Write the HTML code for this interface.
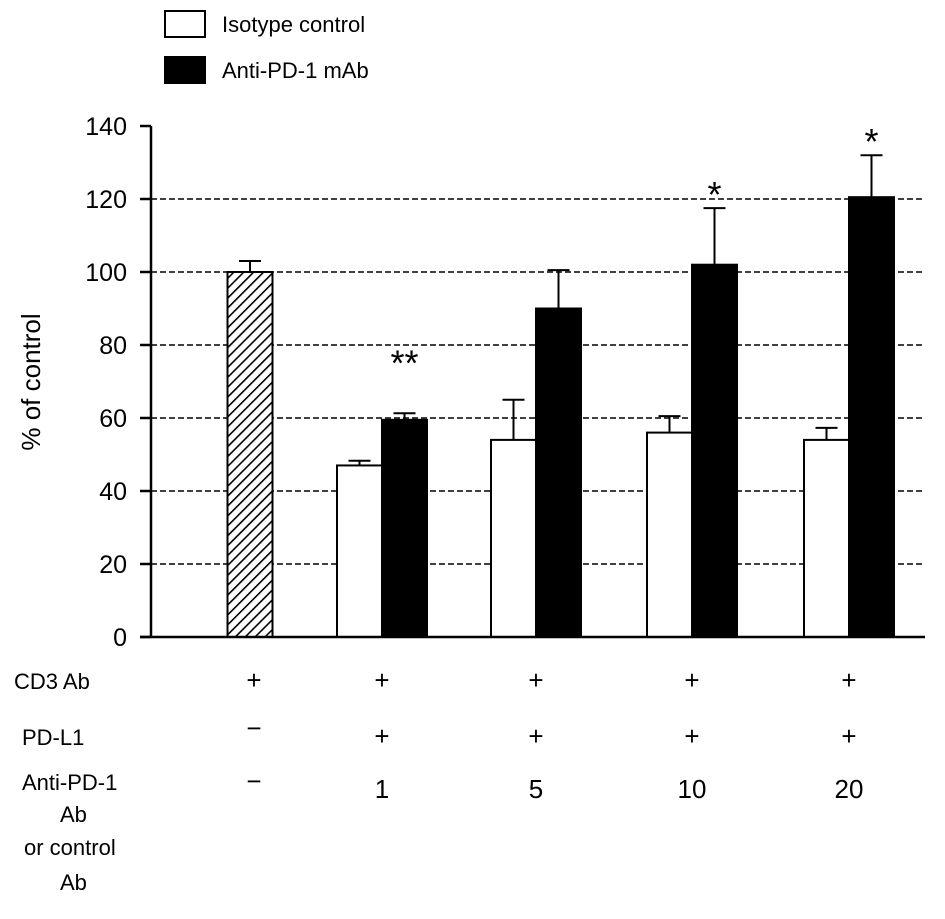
<!DOCTYPE html>
<html><head><meta charset="utf-8"><style>
body{margin:0;background:#fff;}
svg text{font-family:"Liberation Sans",Arial,sans-serif;fill:#000;}
</style></head><body>
<svg width="945" height="914" viewBox="0 0 945 914" xmlns="http://www.w3.org/2000/svg">
<defs>
<pattern id="hatch" patternUnits="userSpaceOnUse" width="7" height="7" patternTransform="rotate(45)">
<rect width="7" height="7" fill="#fff"/><line x1="0" y1="0" x2="0" y2="7" stroke="#000" stroke-width="3.2"/>
</pattern>
</defs>
<g>
<rect x="165" y="11" width="40" height="26" fill="#fff" stroke="#000" stroke-width="2"/>
<text x="222" y="32" font-size="22">Isotype control</text>
<rect x="165" y="57" width="40" height="26" fill="#000" stroke="#000" stroke-width="2"/>
<text x="222" y="78" font-size="22">Anti-PD-1 mAb</text>
</g>
<text transform="translate(40,382) rotate(-90)" text-anchor="middle" font-size="26">% of control</text>
<g id="grid"></g>
<g id="bars"></g>
<line x1="151" y1="126" x2="151" y2="637" stroke="#000" stroke-width="2.5"/>
<line x1="140" y1="637" x2="925" y2="637" stroke="#000" stroke-width="2.5"/>
<g id="yt"></g>
<g font-size="22">
<text x="14" y="689">CD3 Ab</text>
<text x="22" y="745">PD-L1</text>
<text x="22" y="790">Anti-PD-1</text>
<text x="60" y="822">Ab</text>
<text x="24" y="855">or control</text>
<text x="60" y="890">Ab</text>
<g id="tbl" font-size="26"></g>
</g>
</svg>
<script>
const yTicks=[0,20,40,60,80,100,120,140];
const controlValue=100, controlErr=3;
const isotypeValues=[47,54,56,54];
const isotypeErr=[1.3,11,4.5,3.3];
const antiValues=[59.5,90,102,120.5];
const antiErr=[1.8,10.5,15.5,11.5];
const stars=["**","","*","*"];
const cd3Row=["+","+","+","+","+"];
const pdl1Row=["\u2212","+","+","+","+"];
const doseRow=["\u2212","1","5","10","20"];
const NS="http://www.w3.org/2000/svg";
const y=v=>637-v*3.65;
const groupX=[250,382,536,692,849];
function mk(t,a,p){const e=document.createElementNS(NS,t);for(const k in a)e.setAttribute(k,a[k]);p.appendChild(e);return e;}
const grid=document.getElementById('grid'),yt=document.getElementById('yt'),bars=document.getElementById('bars'),tbl=document.getElementById('tbl');
yTicks.forEach(v=>{
 if(v>0&&v<140){const l=mk('line',{x1:151,x2:922,y1:y(v),y2:y(v),stroke:'#000','stroke-width':1.6,'stroke-dasharray':'6,3'},grid);
 
 }
 const t=mk('line',{x1:140,x2:151,y1:y(v),y2:y(v),stroke:'#000','stroke-width':2.5},yt);
 
 
 const tx=mk('text',{x:127,y:y(v)+9,'text-anchor':'end','font-size':25},yt);tx.textContent=v;
 
 
});
function err(cx,v,e,name){
 const g=mk('g',{stroke:'#000','stroke-width':2},bars);
 
 
 mk('line',{x1:cx,x2:cx,y1:y(v),y2:y(v+e)},g);
 mk('line',{x1:cx-11,x2:cx+11,y1:y(v+e),y2:y(v+e)},g);
}
const w=45;
let b=mk('rect',{x:groupX[0]-w/2,y:y(controlValue),width:w,height:y(0)-y(controlValue),fill:'url(#hatch)',stroke:'#000','stroke-width':2},bars);


err(groupX[0],controlValue,controlErr,'error-bar-control');
isotypeValues.forEach((v,i)=>{
 const cx=groupX[i+1];
 const r=mk('rect',{x:cx-w,y:y(v),width:w,height:y(0)-y(v),fill:'#fff',stroke:'#000','stroke-width':2},bars);
 
 
 err(cx-w/2,v,isotypeErr[i],'error-bar-isotype-'+doseRow[i+1]);
 const av=antiValues[i];
 const r2=mk('rect',{x:cx,y:y(av),width:w,height:y(0)-y(av),fill:'#000',stroke:'#000','stroke-width':2},bars);
 
 
 err(cx+w/2,av,antiErr[i],'error-bar-anti-pd1-'+doseRow[i+1]);
 if(stars[i]){const s=mk('text',{x:cx+w/2,y:y(av+antiErr[i])+(i==0?-38:-1),'text-anchor':'middle','font-size':36},bars);s.textContent=stars[i];
 
 }
});
[[cd3Row,689,'cd3'],[pdl1Row,745,'pdl1'],[doseRow,798,'dose']].forEach(([row,yy,n])=>{
 row.forEach((s,i)=>{const t=mk('text',{x:groupX[i]+(i==0?4:0),y:yy+(s=="\u2212"?-8:0),'text-anchor':'middle'},tbl);t.textContent=s;
 
 });
});
</script>
</body></html>
